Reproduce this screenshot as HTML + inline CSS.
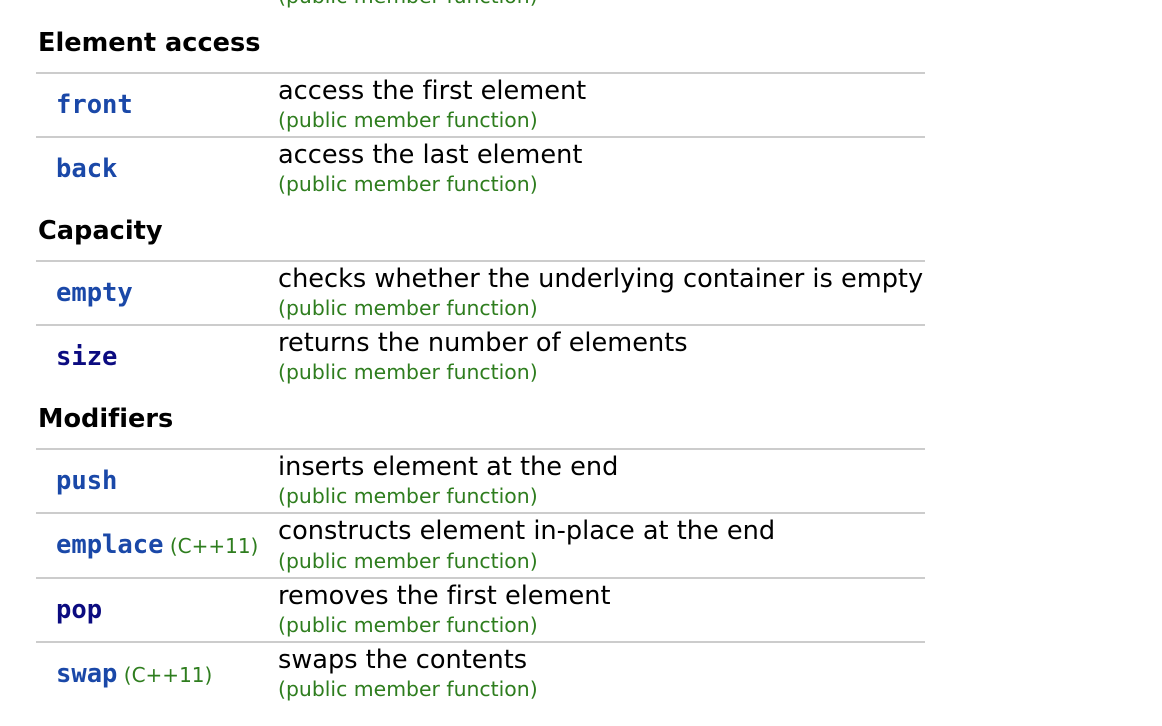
<!DOCTYPE html>
<html><head><meta charset="utf-8"><style>
body{margin:0;width:1162px;height:726px;background:#fff;position:relative;overflow:hidden;font-family:"DejaVu Sans","Liberation Sans",sans-serif;font-variant-ligatures:none;}
.a{position:absolute;white-space:nowrap;}
.h{font-weight:bold;font-size:25.6px;line-height:30px;left:38px;color:#000;}
.l{position:absolute;left:36px;width:889px;height:2px;background:#ccc;}
.d{font-size:25.6px;line-height:30px;left:278px;color:#000;}
.g{font-size:20.4px;line-height:24px;left:278px;color:#2e7d1e;}
.n{font-family:"DejaVu Sans Mono","Liberation Mono",monospace;font-weight:bold;font-size:25.5px;line-height:30px;left:56px;color:#1a48a8;}
.n.v{color:#0b0b80;}
.n small{font-family:"DejaVu Sans",sans-serif;font-weight:normal;font-size:20px;color:#2e7d1e;}
</style></head><body>
<div class="a g" style="top:-16px">(public member function)</div>

<div class="a h" style="top:28px">Element access</div>
<div class="l" style="top:72px"></div>
<div class="a n" style="top:90px">front</div>
<div class="a d" style="top:76px">access the first element</div>
<div class="a g" style="top:108px">(public member function)</div>
<div class="l" style="top:136px"></div>
<div class="a n" style="top:154px">back</div>
<div class="a d" style="top:140px">access the last element</div>
<div class="a g" style="top:172px">(public member function)</div>

<div class="a h" style="top:216px">Capacity</div>
<div class="l" style="top:260px"></div>
<div class="a n" style="top:278px">empty</div>
<div class="a d" style="top:264px">checks whether the underlying container is empty</div>
<div class="a g" style="top:296px">(public member function)</div>
<div class="l" style="top:324px"></div>
<div class="a n v" style="top:342px">size</div>
<div class="a d" style="top:328px">returns the number of elements</div>
<div class="a g" style="top:360px">(public member function)</div>

<div class="a h" style="top:404px">Modifiers</div>
<div class="l" style="top:448px"></div>
<div class="a n" style="top:466px">push</div>
<div class="a d" style="top:452px">inserts element at the end</div>
<div class="a g" style="top:484px">(public member function)</div>
<div class="l" style="top:512px"></div>
<div class="a n" style="top:530px">emplace<small> (C++11)</small></div>
<div class="a d" style="top:516px">constructs element in-place at the end</div>
<div class="a g" style="top:549px">(public member function)</div>
<div class="l" style="top:577px"></div>
<div class="a n v" style="top:595px">pop</div>
<div class="a d" style="top:581px">removes the first element</div>
<div class="a g" style="top:613px">(public member function)</div>
<div class="l" style="top:641px"></div>
<div class="a n" style="top:659px">swap<small> (C++11)</small></div>
<div class="a d" style="top:645px">swaps the contents</div>
<div class="a g" style="top:677px">(public member function)</div>
</body></html>
